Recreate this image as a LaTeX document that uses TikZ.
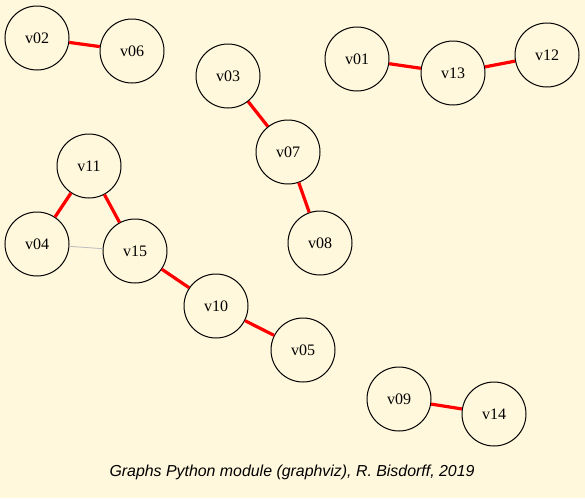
\documentclass[tikz,border=0pt]{standalone}
\usepackage{fontspec}
\setmainfont{Liberation Serif}
\newfontfamily\capfont{Liberation Sans}
\definecolor{bg}{RGB}{255,248,220}
\begin{document}
\begin{tikzpicture}[x=1pt,y=-1pt,
  vert/.style={circle,draw=black,line width=1pt,minimum size=64pt,inner sep=0pt,font=\fontsize{16}{18}\selectfont},
  redge/.style={draw=red,line width=3.2pt},
  gedge/.style={draw=black!25,line width=0.9pt}]
\fill[bg] (0,0) rectangle (585,498);
\useasboundingbox (0,0) rectangle (585,498);
\node[vert] (v02) at (37,38) {v02};
\node[vert] (v06) at (132,51) {v06};
\node[vert] (v03) at (228,76) {v03};
\node[vert] (v07) at (288,152) {v07};
\node[vert] (v08) at (320,243) {v08};
\node[vert] (v01) at (357,59) {v01};
\node[vert] (v13) at (453,73) {v13};
\node[vert] (v12) at (547,55) {v12};
\node[vert] (v11) at (89,166) {v11};
\node[vert] (v04) at (37,244) {v04};
\node[vert] (v15) at (135,251) {v15};
\node[vert] (v10) at (216,306) {v10};
\node[vert] (v05) at (303,350) {v05};
\node[vert] (v09) at (399,399) {v09};
\node[vert] (v14) at (494,414) {v14};
\draw[redge] (v02) -- (v06);
\draw[redge] (v03) -- (v07);
\draw[redge] (v07) -- (v08);
\draw[redge] (v01) -- (v13);
\draw[redge] (v13) -- (v12);
\draw[redge] (v11) -- (v04);
\draw[redge] (v11) -- (v15);
\draw[gedge] (v04) -- (v15);
\draw[redge] (v15) -- (v10);
\draw[redge] (v10) -- (v05);
\draw[redge] (v09) -- (v14);
\node[font=\capfont\itshape\fontsize{15.9}{18}\selectfont] (cap) at (292,472) {Graphs Python module (graphviz), R. Bisdorff, 2019};
\end{tikzpicture}
\end{document}
